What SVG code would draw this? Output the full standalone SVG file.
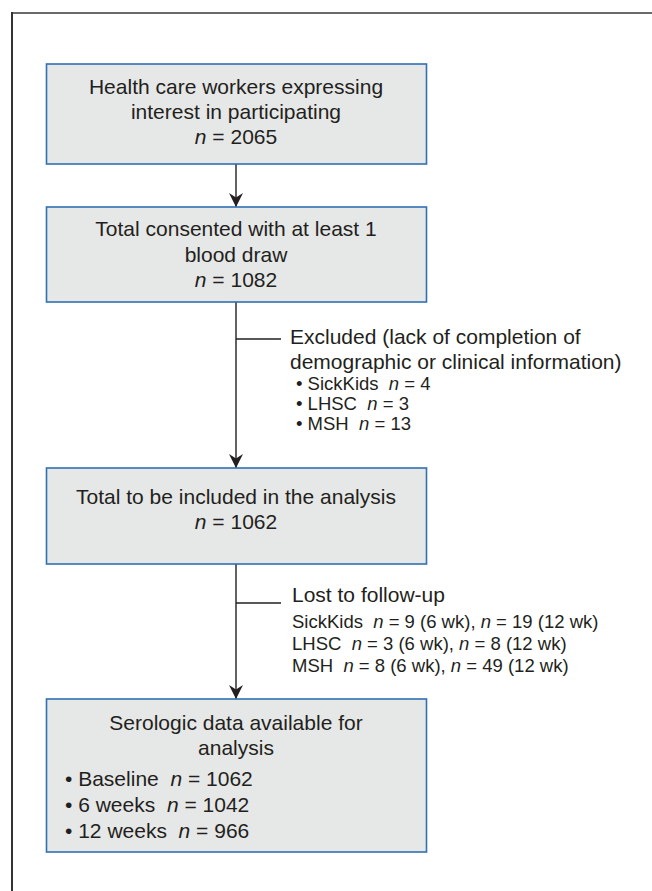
<svg xmlns="http://www.w3.org/2000/svg" width="652" height="891" viewBox="0 0 652 891">
<style>
  .box { fill: #e6e7e7; stroke: #3070b5; stroke-width: 1.6; }
  .t { font-family: "Liberation Sans", Arial, sans-serif; font-size: 21px; fill: #231f20; }
  .s { font-family: "Liberation Sans", Arial, sans-serif; font-size: 18.5px; fill: #231f20; }
  .c { text-anchor: middle; }
  .i { font-style: italic; }
  .ln { stroke: #231f20; stroke-width: 1.4; fill: none; }
</style>
<defs>
  <marker id="ah" markerUnits="userSpaceOnUse" markerWidth="16" markerHeight="16" viewBox="-15 -8 16 16" refX="0" refY="0" orient="auto">
    <path d="M0,0 L-14,-7 L-9.5,0 L-14,7 Z" fill="#231f20"/>
  </marker>
</defs>
<g id="frame">
  <line x1="11" y1="13" x2="652" y2="13" stroke="#6a6a6a" stroke-width="2"/>
  <line x1="12" y1="12" x2="12" y2="891" stroke="#333" stroke-width="2"/>
</g>
<g id="connectors">
  <line class="ln" x1="236" y1="164" x2="236" y2="207" marker-end="url(#ah)"/>
  <line class="ln" x1="236" y1="302" x2="236" y2="468" marker-end="url(#ah)"/>
  <line class="ln" x1="236" y1="339" x2="281" y2="339"/>
  <line class="ln" x1="236" y1="564" x2="236" y2="699" marker-end="url(#ah)"/>
  <line class="ln" x1="236" y1="603" x2="281" y2="603"/>
</g>
<g id="n1">
  <rect class="box" x="46.5" y="64" width="380" height="100"/>
  <text class="t c" x="236" y="94">Health care workers expressing</text>
  <text class="t c" x="236" y="119">interest in participating</text>
  <text class="t c" x="236" y="144"><tspan class="i">n</tspan> = 2065</text>
</g>
<g id="n2">
  <rect class="box" x="46.5" y="207" width="380" height="95"/>
  <text class="t c" x="236" y="236">Total consented with at least 1</text>
  <text class="t c" x="236" y="262">blood draw</text>
  <text class="t c" x="236" y="287"><tspan class="i">n</tspan> = 1082</text>
</g>
<g id="excluded">
  <text class="t" x="290" y="344">Excluded (lack of completion of</text>
  <text class="t" x="290" y="369">demographic or clinical information)</text>
  <text class="s" x="296" y="390">• SickKids&#160; <tspan class="i">n</tspan> = 4</text>
  <text class="s" x="296" y="410">• LHSC&#160; <tspan class="i">n</tspan> = 3</text>
  <text class="s" x="296" y="430">• MSH&#160; <tspan class="i">n</tspan> = 13</text>
</g>
<g id="n3">
  <rect class="box" x="46.5" y="468" width="380" height="96"/>
  <text class="t c" x="236" y="504">Total to be included in the analysis</text>
  <text class="t c" x="236" y="529"><tspan class="i">n</tspan> = 1062</text>
</g>
<g id="lost">
  <text class="t" x="292" y="602">Lost to follow-up</text>
  <text class="s" x="292" y="628">SickKids&#160; <tspan class="i">n</tspan> = 9 (6 wk), <tspan class="i">n</tspan> = 19 (12 wk)</text>
  <text class="s" x="292" y="650">LHSC&#160; <tspan class="i">n</tspan> = 3 (6 wk), <tspan class="i">n</tspan> = 8 (12 wk)</text>
  <text class="s" x="292" y="672">MSH&#160; <tspan class="i">n</tspan> = 8 (6 wk), <tspan class="i">n</tspan> = 49 (12 wk)</text>
</g>
<g id="n4">
  <rect class="box" x="46.5" y="699" width="380" height="153"/>
  <text class="t c" x="236" y="730">Serologic data available for</text>
  <text class="t c" x="236" y="755">analysis</text>
  <text class="t" x="65" y="786">• Baseline&#160; <tspan class="i">n</tspan> = 1062</text>
  <text class="t" x="65" y="812">• 6 weeks&#160; <tspan class="i">n</tspan> = 1042</text>
  <text class="t" x="65" y="838">• 12 weeks&#160; <tspan class="i">n</tspan> = 966</text>
</g>
</svg>
